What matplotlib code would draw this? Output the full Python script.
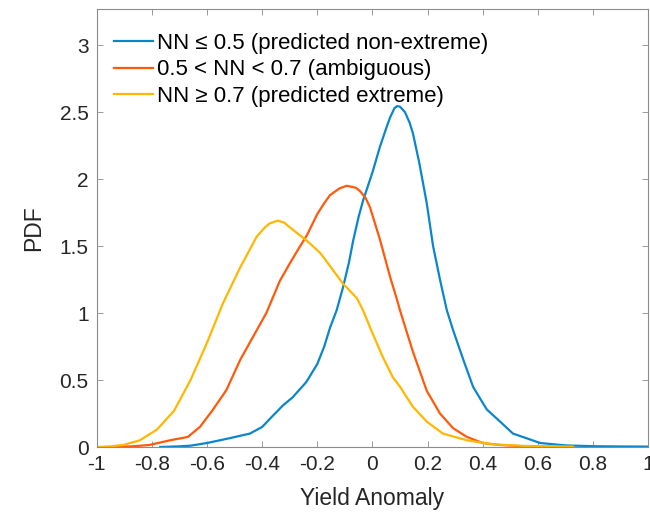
import matplotlib
matplotlib.use('Agg')
import matplotlib.pyplot as plt

plt.rcParams['font.family'] = ['Liberation Sans', 'DejaVu Sans']

# Curves (x = yield anomaly, y = PDF)
blue_x = [-0.77, -0.70, -0.66, -0.60, -0.52, -0.445, -0.40, -0.37, -0.325, -0.29,
          -0.24, -0.20, -0.175, -0.154, -0.13, -0.107, -0.085, -0.07, -0.05, -0.034,
          0.0, 0.027, 0.05, 0.064, 0.08, 0.09, 0.10, 0.118, 0.135, 0.147,
          0.17, 0.197, 0.22, 0.245, 0.27, 0.293, 0.33, 0.365, 0.40, 0.415,
          0.463, 0.51, 0.56, 0.608, 0.70, 0.80, 0.90, 1.0]
blue_y = [0.0, 0.005, 0.01, 0.03, 0.065, 0.10, 0.15, 0.215, 0.31, 0.37,
          0.485, 0.62, 0.75, 0.89, 1.02, 1.19, 1.38, 1.54, 1.72, 1.84,
          2.05, 2.24, 2.38, 2.46, 2.53, 2.545, 2.54, 2.50, 2.42, 2.34,
          2.12, 1.82, 1.50, 1.25, 1.02, 0.87, 0.65, 0.45, 0.33, 0.28,
          0.19, 0.10, 0.065, 0.03, 0.012, 0.006, 0.004, 0.003]

orange_x = [-0.945, -0.87, -0.81, -0.735, -0.67, -0.626, -0.58, -0.53, -0.48, -0.434,
            -0.385, -0.336, -0.30, -0.274, -0.238, -0.20, -0.175, -0.154, -0.12, -0.093,
            -0.06, -0.045, -0.025, -0.009, 0.027, 0.064, 0.089, 0.10, 0.147, 0.197,
            0.245, 0.293, 0.343, 0.40, 0.463, 0.55, 0.644]
orange_y = [0.0, 0.005, 0.015, 0.05, 0.075, 0.15, 0.275, 0.425, 0.65, 0.82,
            1.0, 1.24, 1.37, 1.46, 1.58, 1.74, 1.82, 1.88, 1.93, 1.95,
            1.935, 1.91, 1.86, 1.79, 1.55, 1.27, 1.10, 1.02, 0.71, 0.42,
            0.25, 0.14, 0.075, 0.03, 0.015, 0.005, 0.002]

yellow_x = [-1.0, -0.95, -0.905, -0.844, -0.782, -0.72, -0.66, -0.60, -0.543, -0.48,
            -0.42, -0.39, -0.372, -0.343, -0.32, -0.30, -0.238, -0.19, -0.15, -0.107,
            -0.056, -0.034, 0.0, 0.038, 0.074, 0.10, 0.125, 0.147, 0.197, 0.256,
            0.343, 0.437, 0.55, 0.727]
yellow_y = [0.0, 0.005, 0.015, 0.05, 0.13, 0.27, 0.50, 0.78, 1.07, 1.34,
            1.57, 1.64, 1.67, 1.69, 1.675, 1.64, 1.54, 1.45, 1.34, 1.22,
            1.11, 1.02, 0.85, 0.67, 0.52, 0.45, 0.37, 0.30, 0.19, 0.10,
            0.05, 0.02, 0.008, 0.003]

labels = ['NN ≤ 0.5 (predicted non-extreme)',
          '0.5 < NN < 0.7 (ambiguous)',
          'NN ≥ 0.7 (predicted extreme)']
colors = ['#0a86cc', '#ff5a0a', '#ffb700']

x_ticks = [-1, -0.8, -0.6, -0.4, -0.2, 0, 0.2, 0.4, 0.6, 0.8, 1]
y_ticks = [0, 0.5, 1, 1.5, 2, 2.5, 3]

fig = plt.figure(figsize=(6.5, 5.16), dpi=100)
ax = fig.add_axes([0.149, 0.1337, 0.848, 0.849])

ax.plot(blue_x, blue_y, color=colors[0], lw=1.6, label=labels[0])
ax.plot(orange_x, orange_y, color=colors[1], lw=1.6, label=labels[1])
ax.plot(yellow_x, yellow_y, color=colors[2], lw=1.6, label=labels[2])

ax.set_xlim(-1, 1)
ax.set_ylim(0, 3.27)
ax.set_xticks(x_ticks)
ax.set_xticklabels(['%g' % t for t in x_ticks])
ax.set_yticks(y_ticks)
ax.set_yticklabels(['%g' % t for t in y_ticks])

ax.tick_params(direction='in', length=4, width=0.6, color='#8c8c8c',
               top=True, right=True, labelsize=15, labelcolor='#262626', pad=6)
for sp in ax.spines.values():
    sp.set_color('#8c8c8c')
    sp.set_linewidth(0.8)

ax.set_xlabel('Yield Anomaly', fontsize=16.5, color='#262626', labelpad=9)
ax.set_ylabel('PDF', fontsize=16.5, color='#262626', labelpad=10)

ax.legend(loc='upper left', bbox_to_anchor=(0.031, 0.946), frameon=False,
          fontsize=16, borderpad=0, borderaxespad=0, labelspacing=0.26,
          handlelength=1.75, handletextpad=0.18)

fig.savefig('out.png', dpi=100)
